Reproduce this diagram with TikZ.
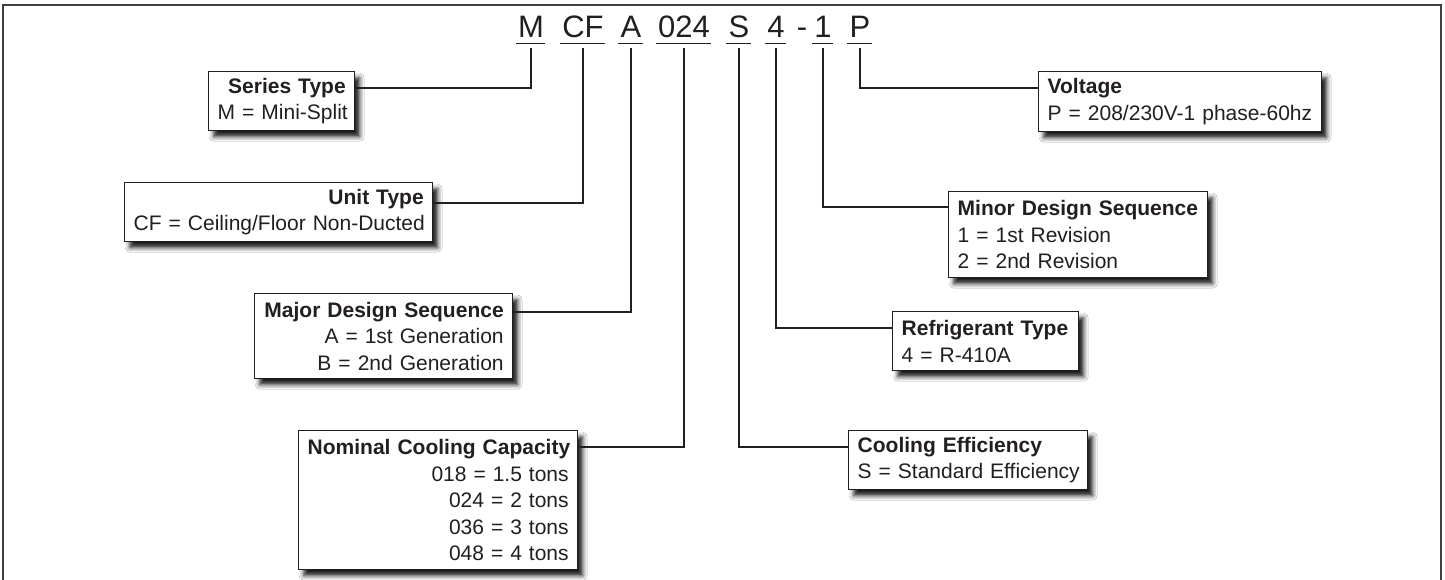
\documentclass[tikz,border=0pt]{standalone}
\usepackage{fontspec}
\setmainfont{Liberation Sans}
\usetikzlibrary{shadows.blur}
\definecolor{ink}{HTML}{231F20}
\begin{document}
\begin{tikzpicture}[x=1pt,y=-1pt,
  code/.style={font=\fontsize{31}{31}\selectfont, text=ink, inner sep=0pt, anchor=base},
  lbox/.style={draw=ink, line width=1.4pt, fill=white, font=\fontsize{21}{26.6}\selectfont, text=ink,
     align=right, inner xsep=9pt, inner ysep=0pt, anchor=north west,
     blur shadow={shadow xshift=5pt, shadow yshift=-6pt, shadow blur radius=4.5pt, shadow opacity=90}},
  rbox/.style={lbox, align=left},
  wire/.style={draw=ink, line width=2.2pt},
  uline/.style={draw=ink, line width=1.6pt},
  frame/.style={draw=black!75, line width=2pt}]
\useasboundingbox (0,0) rectangle (1445,580);
\fill[white] (0,0) rectangle (1445,580);
\draw[frame] (3,580) -- (3,5) -- (1441,5) -- (1441,580);

% code letters
\node[code] (hM)   at (531,38) {M};
\node[code] (hCF)  at (583,38) {CF};
\node[code] (hA)   at (631,38) {A};
\node[code] (h024) at (684,38) {024};
\node[code] (hS)   at (739,38) {S};
\node[code] (h4)   at (776,38) {4};
\node[code] (hdash) at (802,38) {-};
\node[code] (h1)   at (823,38) {1};
\node[code] (hP)   at (860,38) {P};
\foreach \n in {hM,hCF,hA,h024,hS,h4,h1,hP}{
  \draw[uline] ([xshift=-2pt,yshift=-5.5pt]\n.base west) -- ([xshift=1pt,yshift=-5.5pt]\n.base east);
}

% left boxes
\node[lbox, minimum width=146pt, text width=128pt, minimum height=59pt] (series) at (208,71)
  {\mbox{\textbf{Series Type}}\\\mbox{M = Mini-Split}};
\node[lbox, minimum width=308pt, text width=290pt, minimum height=59pt] (unit) at (124,182)
  {\mbox{\textbf{Unit Type}}\\\mbox{CF = Ceiling/Floor Non-Ducted}};
\node[lbox, minimum width=258pt, text width=240pt, minimum height=85pt] (major) at (254,293)
  {\mbox{\textbf{Major Design Sequence}}\\\mbox{A = 1st Generation}\\\mbox{B = 2nd Generation}};
\node[lbox, minimum width=279pt, text width=261pt, minimum height=139pt] (nominal) at (298,430)
  {\mbox{\textbf{Nominal Cooling Capacity}}\\\mbox{018 = 1.5 tons}\\\mbox{024 = 2 tons}\\\mbox{036 = 3 tons}\\\mbox{048 = 4 tons}};

% right boxes
\node[rbox, minimum width=283pt, text width=265pt, minimum height=60pt] (voltage) at (1038,71)
  {\mbox{\textbf{Voltage}}\\\mbox{P = 208/230V-1 phase-60hz}};
\node[rbox, minimum width=259pt, text width=241pt, minimum height=86pt] (minor) at (948,191)
  {\mbox{\textbf{Minor Design Sequence}}\\\mbox{1 = 1st Revision}\\\mbox{2 = 2nd Revision}};
\node[rbox, minimum width=186pt, text width=168pt, minimum height=59pt] (refrig) at (892,311)
  {\mbox{\textbf{Refrigerant Type}}\\\mbox{4 = R-410A}};
\node[rbox, minimum width=239pt, text width=221pt, minimum height=59pt] (cooling) at (848,430)
  {\mbox{\textbf{Cooling Efficiency}}\\\mbox{S = Standard Efficiency}};

% connectors
\draw[wire] ([yshift=-10pt]hM.base)   |- ([yshift=-17pt]series.north east);
\draw[wire] ([yshift=-10pt]hCF.base)  |- ([yshift=-21pt]unit.north east);
\draw[wire] ([yshift=-10pt]hA.base)   |- ([yshift=-19pt]major.north east);
\draw[wire] ([yshift=-10pt]h024.base) |- ([yshift=-17pt]nominal.north east);
\draw[wire] ([yshift=-10pt]hS.base)   |- ([yshift=-17pt]cooling.north west);
\draw[wire] ([yshift=-10pt]h4.base)   |- ([yshift=-17pt]refrig.north west);
\draw[wire] ([yshift=-10pt]h1.base)   |- ([yshift=-16pt]minor.north west);
\draw[wire] ([yshift=-10pt]hP.base)   |- ([yshift=-17pt]voltage.north west);
\end{tikzpicture}
\end{document}
